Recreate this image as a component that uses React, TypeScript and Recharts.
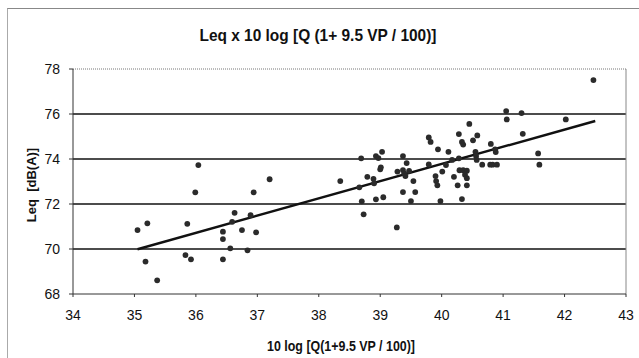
import React from 'react';
import { ComposedChart, Scatter, XAxis, YAxis, ReferenceLine } from 'recharts';

const xValues = [
  35.05, 35.21, 35.18, 35.37, 36.04, 35.99, 35.86, 35.83, 35.92, 36.44,
  36.44, 36.44, 36.56, 36.63, 36.59, 36.75, 36.84, 36.89, 36.98, 36.94,
  37.2, 38.35, 38.69, 38.79, 38.89, 38.9, 38.66, 38.7, 38.73, 38.93,
  38.97, 39.03, 39.0, 39.01, 38.93, 39.05, 39.27, 39.37, 39.43, 39.28,
  39.37, 39.39, 39.41, 39.47, 39.54, 39.37, 39.57, 39.5, 39.79, 39.82,
  39.94, 39.79, 40.11, 39.9, 39.91, 39.93, 39.98, 40.01, 40.07, 40.2,
  40.26, 40.33, 40.28, 40.33, 40.35, 40.28, 40.29, 40.35, 40.41, 40.38,
  40.41, 40.41, 40.45, 40.58, 40.51, 40.8, 40.87, 40.88, 40.55, 40.56,
  40.57, 40.66, 40.79, 40.83, 40.9, 41.05, 41.06, 41.3, 41.32, 42.02,
  41.57, 41.59, 42.47, 40.17,
];
const yValues = [
  70.84, 71.14, 69.44, 68.61, 73.73, 72.52, 71.12, 69.73, 69.54, 70.77,
  70.44, 69.54, 70.03, 71.61, 71.21, 70.84, 69.94, 71.5, 70.74, 72.52,
  73.1, 73.02, 74.03, 73.21, 73.12, 72.92, 72.74, 72.12, 71.54, 74.13,
  74.04, 74.32, 73.54, 73.63, 72.21, 72.3, 70.96, 74.13, 73.82, 73.44,
  73.51, 73.36, 73.24, 73.47, 73.02, 72.53, 72.53, 72.13, 74.96, 74.76,
  74.43, 73.76, 74.32, 73.24, 73.02, 72.83, 72.13, 73.44, 73.73, 73.21,
  72.83, 72.22, 75.11, 74.76, 74.64, 74.03, 73.5, 73.5, 73.48, 73.3,
  73.15, 72.83, 75.56, 75.05, 74.83, 74.67, 74.43, 74.31, 74.32, 74.13,
  73.96, 73.75, 73.75, 73.75, 73.75, 76.13, 75.76, 76.04, 75.12, 75.76,
  74.25, 73.75, 77.51, 73.96,
];
const trendX = [35.05, 42.5];
const trendY = [69.99, 75.69];
const xTicks = [34, 35, 36, 37, 38, 39, 40, 41, 42, 43];
const yTicks = [68, 70, 72, 74, 76, 78];
const gridY = [70, 72, 74, 76];

const title = 'Leq x 10 log [Q (1+ 9.5 VP / 100)]';
const xTitle = '10 log [Q(1+9.5 VP / 100)]';
const yTitle = 'Leq\u00a0\u00a0[dB(A)]';

const data = xValues.map((x, i) => ({ x, y: yValues[i] }));

const FONT = '"Liberation Sans Narrow", "Liberation Sans", Arial, sans-serif';

const Dot = (props: any) => {
  const { cx, cy } = props;
  if (cx == null || cy == null) return null;
  return <circle cx={cx} cy={cy} r={2.9} fill="#2b2b2b" />;
};

export default function App() {
  return (
    <div style={{ position: 'absolute', left: 0, top: 0, width: 639, height: 358, background: '#fff', overflow: 'hidden' }}>
      <div style={{ position: 'absolute', left: 7, top: 8, width: 700, height: 400, borderTop: '1px solid #888', borderLeft: '1px solid #aaa' }} />
      <div style={{ position: 'absolute', left: 0, top: 0 }}>
        <ComposedChart width={639} height={358} data={data} margin={{ top: 69, right: 13, bottom: 34, left: 43 }}>
          <XAxis
            dataKey="x"
            type="number"
            domain={[34, 43]}
            ticks={xTicks}
            interval={0}
            height={30}
            tickSize={3}
            tickMargin={13}
            stroke="#333"
            tick={{ fontFamily: FONT, fontSize: 14, fill: '#111' }}
            allowDataOverflow
          />
          <YAxis
            dataKey="y"
            type="number"
            domain={[68, 78]}
            ticks={yTicks}
            interval={0}
            width={30}
            tickSize={4}
            tickMargin={9}
            stroke="#333"
            tick={{ fontFamily: FONT, fontSize: 14, fill: '#111' }}
            allowDataOverflow
          />
          {gridY.map((v) => (
            <ReferenceLine key={v} y={v} stroke="#111" strokeWidth={1.3} />
          ))}
          <ReferenceLine y={78} stroke="#777" strokeDasharray="1 1" />
          <ReferenceLine x={43} stroke="#888" />
          <ReferenceLine
            segment={[
              { x: trendX[0], y: trendY[0] },
              { x: trendX[1], y: trendY[1] },
            ]}
            stroke="#111"
            strokeWidth={2.4}
          />
          <Scatter dataKey="y" data={data} shape={<Dot />} isAnimationActive={false} />
        </ComposedChart>
      </div>
      <svg width={639} height={358} style={{ position: 'absolute', left: 0, top: 0, pointerEvents: 'none' }}>
        <text x={318} y={35} textAnchor="middle" dominantBaseline="central" fontFamily={FONT} fontWeight="bold" fontSize={17} fill="#111" textLength={237} lengthAdjust="spacingAndGlyphs">
          {title}
        </text>
        <text x={341} y={346} textAnchor="middle" dominantBaseline="central" fontFamily={FONT} fontWeight="bold" fontSize={14} fill="#111" textLength={148} lengthAdjust="spacingAndGlyphs">
          {xTitle}
        </text>
        <g transform="translate(31,185) rotate(-90)">
          <text x={0} y={0} textAnchor="middle" dominantBaseline="central" fontFamily={FONT} fontWeight="bold" fontSize={13} fill="#111">
            {yTitle}
          </text>
        </g>
      </svg>
    </div>
  );
}
